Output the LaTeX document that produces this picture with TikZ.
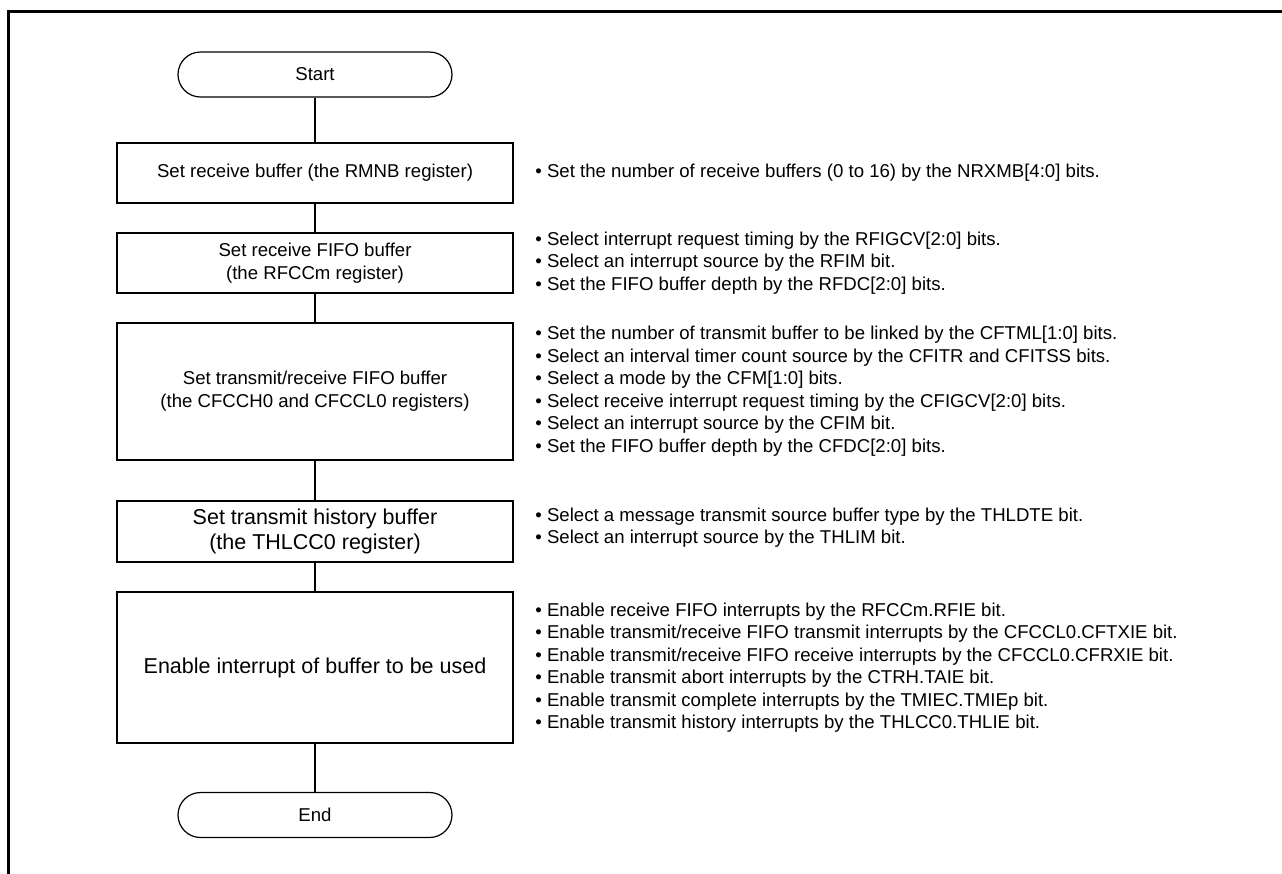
\documentclass[tikz,border=0pt]{standalone}
\usepackage{fontspec}
\setmainfont{Liberation Sans}
\usepackage{xcolor}
\usepackage{tikz}

\tikzset{
  stepbox/.style={draw, line width=0.6pt, minimum width=198pt, inner sep=0pt,
    align=center, font=\fontsize{9.3}{11.5}\selectfont},
  bigstep/.style={stepbox, font=\fontsize{10.75}{12.5}\selectfont},
  termbox/.style={draw, line width=0.6pt, rounded corners=11.25pt,
    minimum width=137pt, minimum height=22.5pt, inner sep=0pt,
    font=\fontsize{9.3}{11.5}\selectfont},
  notes/.style={anchor=west, align=left, inner sep=0pt,
    font=\fontsize{9.3}{11.25}\selectfont},
  flow/.style={line width=0.6pt},
}

\begin{document}
\begin{tikzpicture}[x=0.5pt, y=-0.5pt]
  \useasboundingbox (0,0) rectangle (1282,874);
  \clip (0,0) rectangle (1282,874);
  %
  \draw[line width=1.5pt] (8.5,890) -- (8.5,11.5) -- (1300,11.5) ;
  %
  \node[termbox] (start) at (315,74.5) {Start} ;
  \node[stepbox, minimum height=30pt] (rmnb) at (315,173)
    {Set receive buffer (the RMNB register)} ;
  \node[stepbox, minimum height=30pt] (rfcc) at (315,263)
    {Set receive FIFO buffer\\(the RFCCm register)} ;
  \node[stepbox, minimum height=68.5pt] (cfcc) at (315,391.5)
    {Set transmit/receive FIFO buffer\\(the CFCCH0 and CFCCL0 registers)} ;
  \node[bigstep, minimum height=30.5pt] (thl) at (315,531.5)
    {Set transmit history buffer\\(the THLCC0 register)} ;
  \node[bigstep, minimum height=75.5pt] (intr) at (315,667.5)
    {Enable interrupt of buffer to be used} ;
  \node[termbox] (stop) at (315,815) {End} ;
  %
  \draw[flow] (start) -- (rmnb) ;
  \draw[flow] (rmnb) -- (rfcc) ;
  \draw[flow] (rfcc) -- (cfcc) ;
  \draw[flow] (cfcc) -- (thl) ;
  \draw[flow] (thl) -- (intr) ;
  \draw[flow] (intr) -- (stop) ;
  %
  \node[notes] (rmnbnote) at (535,173)
    {• Set the number of receive buffers (0 to 16) by the NRXMB[4:0] bits.} ;
  \node[notes] (rfccnote) at (535,263)
    {• Select interrupt request timing by the RFIGCV[2:0] bits.\\
     • Select an interrupt source by the RFIM bit.\\
     • Set the FIFO buffer depth by the RFDC[2:0] bits.} ;
  \node[notes] (cfccnote) at (535,391)
    {• Set the number of transmit buffer to be linked by the CFTML[1:0] bits.\\
     • Select an interval timer count source by the CFITR and CFITSS bits.\\
     • Select a mode by the CFM[1:0] bits.\\
     • Select receive interrupt request timing by the CFIGCV[2:0] bits.\\
     • Select an interrupt source by the CFIM bit.\\
     • Set the FIFO buffer depth by the CFDC[2:0] bits.} ;
  \node[notes] (thlnote) at (535,527.5)
    {• Select a message transmit source buffer type by the THLDTE bit.\\
     • Select an interrupt source by the THLIM bit.} ;
  \node[notes] (intrnote) at (535,667.5)
    {• Enable receive FIFO interrupts by the RFCCm.RFIE bit.\\
     • Enable transmit/receive FIFO transmit interrupts by the CFCCL0.CFTXIE bit.\\
     • Enable transmit/receive FIFO receive interrupts by the CFCCL0.CFRXIE bit.\\
     • Enable transmit abort interrupts by the CTRH.TAIE bit.\\
     • Enable transmit complete interrupts by the TMIEC.TMIEp bit.\\
     • Enable transmit history interrupts by the THLCC0.THLIE bit.} ;
\end{tikzpicture}
\end{document}
